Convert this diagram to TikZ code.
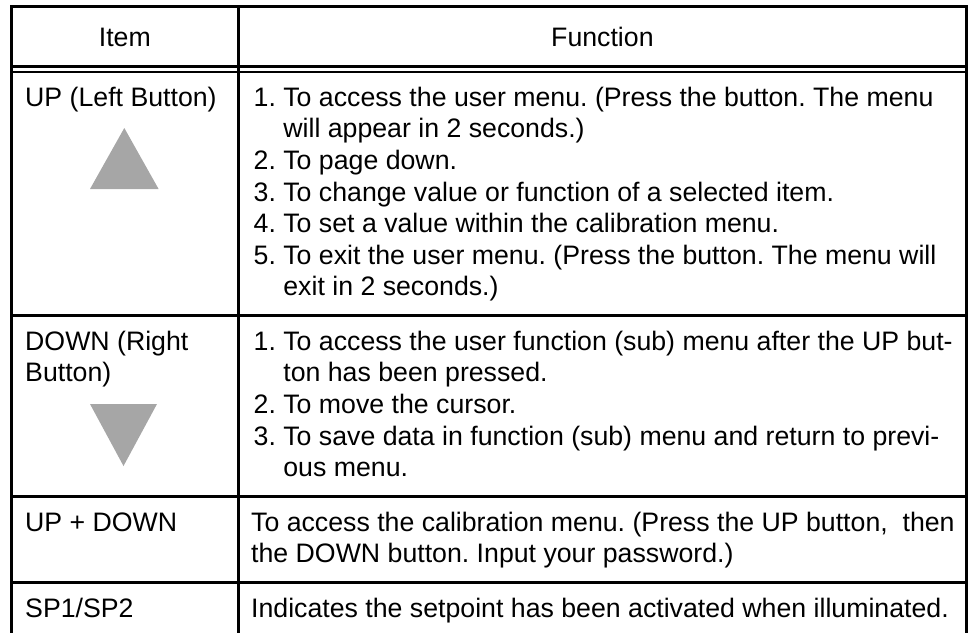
\documentclass[tikz,border=0pt]{standalone}
\usepackage{fontspec}
\setmainfont{Liberation Sans}
\definecolor{btngray}{HTML}{A6A6A6}
\newcommand\cellfont{\fontsize{26.7}{31.6}\selectfont}
\newcommand\cellbox[1]{\parbox[t]{720pt}{\lineskiplimit=-100pt\frenchspacing #1}}
\newcommand\hind{\phantom{1. }}
\tikzset{
  gridline/.style={line width=2.7pt, draw=black},
  celltext/.style={anchor=base west, inner sep=0pt, font=\cellfont},
  headtext/.style={anchor=base, inner sep=0pt, font=\cellfont},
  btn/.style={fill=btngray, draw=none},
}
\begin{document}
\begin{tikzpicture}[x=1pt,y=-1pt]
\useasboundingbox (0,0) rectangle (974,632);
% grid
\draw[gridline] (11.3,6.7) rectangle (966.5,637.5);
\draw[gridline] (238.3,6.7) -- (238.3,637.5);
\draw[gridline] (11.3,66.3) -- (966.5,66.3);
\draw[gridline] (11.3,72) -- (966.5,72);
\draw[gridline] (11.3,315.7) -- (966.5,315.7);
\draw[gridline] (11.3,496.7) -- (966.5,496.7);
\draw[gridline] (11.3,582.7) -- (966.5,582.7);
% header
\node[headtext] (hitem) at (124.8,46.5) {Item};
\node[headtext] (hfunc) at (602.4,46.5) {Function};
% row 1
\node[celltext] (i1) at (25,106.2) {\cellbox{UP (Left Button)}};
\fill[btn] (90,189) -- (124.3,128) -- (158.6,189) -- cycle;
\node[celltext] (f1) at (253.5,106.2) {\cellbox{1. To access the user menu. (Press the button. The menu\\
\hind will appear in 2 seconds.)\\
2. To page down.\\
3. To change value or function of a selected item.\\
4. To set a value within the calibration menu.\\
5. To exit the user menu. (Press the button. The menu will\\
\hind exit in 2 seconds.)}};
% row 2
\node[celltext] (i2) at (25,350.2) {\cellbox{DOWN (Right\\Button)}};
\fill[btn] (90,404) -- (157,404) -- (123.5,466) -- cycle;
\node[celltext] (f2) at (253.5,350.2) {\cellbox{1. To access the user function (sub) menu after the UP but-\\
\hind ton has been pressed.\\
2. To move the cursor.\\
3. To save data in function (sub) menu and return to previ-\\
\hind ous menu.}};
% row 3
\node[celltext] (i3) at (25,531.2) {\cellbox{UP + DOWN}};
\node[celltext] (f3) at (251,531.2) {\cellbox{To access the calibration menu. (Press the UP button,~ then\\
the DOWN button. Input your password.)}};
% row 4
\node[celltext] (i4) at (25,617.2) {\cellbox{SP1/SP2}};
\node[celltext] (f4) at (251,617.2) {\cellbox{Indicates the setpoint has been activated when illuminated.}};
\end{tikzpicture}
\end{document}
